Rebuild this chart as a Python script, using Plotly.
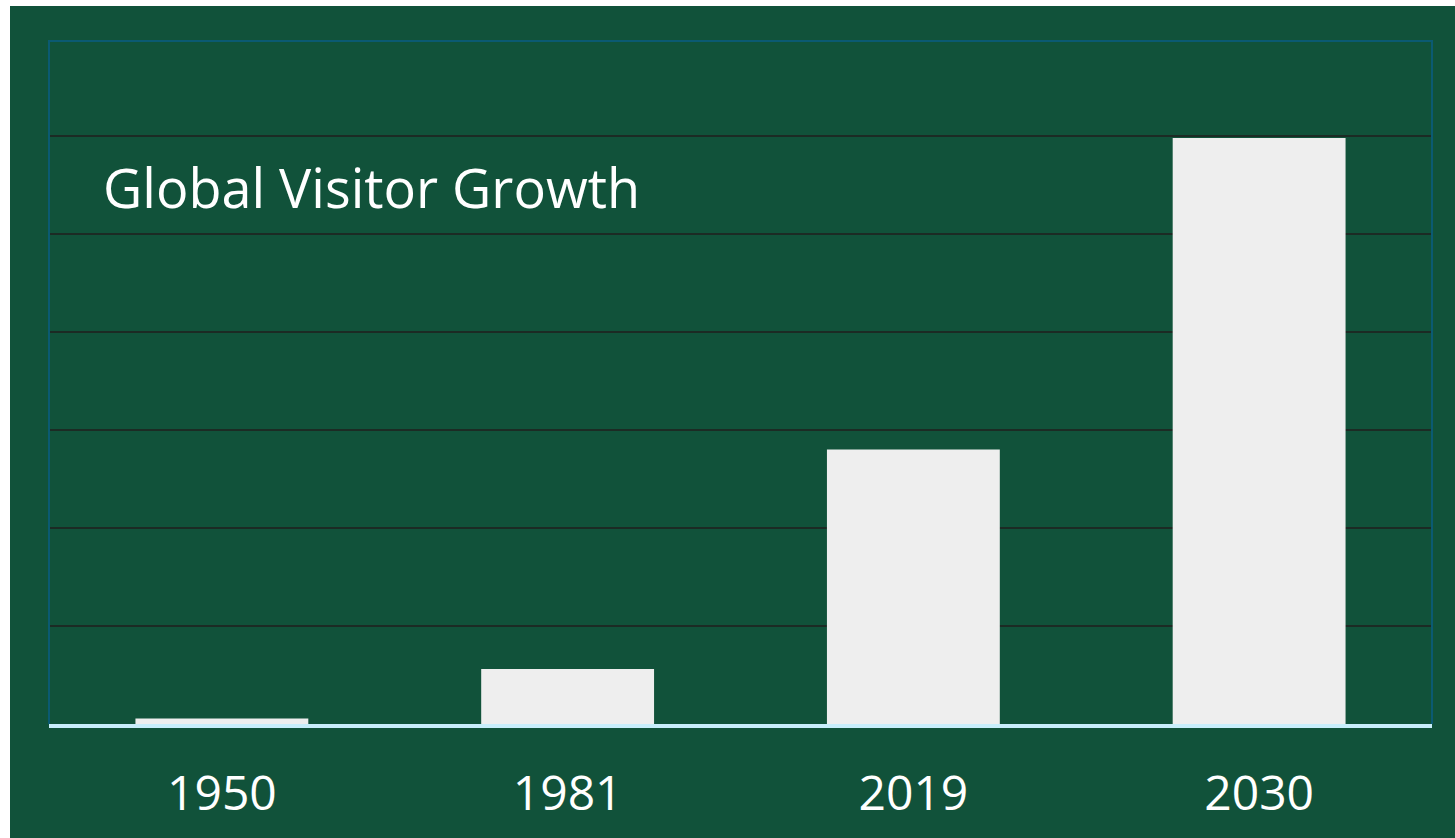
import plotly.graph_objects as go

# Data (billions of international visitors)
years = ["1950", "1981", "2019", "2030"]
visitors = [0.028, 0.28, 1.40, 2.99]
chart_title = "Global Visitor Growth"

W, H = 1455, 838
L, R, T, B = 49, 23, 41, 114
pw = W - L - R
ph = H - T - B

green = "#11523A"

fig = go.Figure()
fig.add_trace(go.Bar(
    x=years, y=visitors,
    marker=dict(color="#EEEEEE", line=dict(width=0)),
    hoverinfo="x+y",
))

fig.update_layout(
    width=W, height=H,
    margin=dict(l=L, r=R, t=T, b=B, pad=0, autoexpand=False),
    paper_bgcolor="#FFFFFF",
    plot_bgcolor=green,
    bargap=0.5,
    showlegend=False,
    font=dict(family="Open Sans, sans-serif", color="#FFFFFF"),
    xaxis=dict(
        automargin=False,
        showline=True, linecolor="#C8EEFB", linewidth=4,
        showgrid=False, zeroline=False,
        ticks="outside", ticklen=0, tickcolor="rgba(0,0,0,0)",
        ticklabelstandoff=24,
        tickfont=dict(size=48, color="#FFFFFF", family="Open Sans, sans-serif"),
    ),
    yaxis=dict(
        automargin=False,
        range=[0, 3.485], dtick=0.5,
        showgrid=True, gridcolor="#1C2B24", gridwidth=2,
        zeroline=False, showticklabels=False, showline=False,
    ),
)

# Outer background (white strip on top/left in reference) and plot frame
fig.add_shape(type="rect", xref="paper", yref="paper",
              x0=(10 - L) / pw, x1=(W - L) / pw + 0.01,
              y0=-(B + 5) / ph, y1=1 + (T - 6) / ph,
              fillcolor=green, line=dict(width=0), layer="below")
fig.add_shape(type="path", xref="paper", yref="paper",
              path="M 0,0 L 0,1 L 1,1 L 1,0",
              line=dict(color="#0B5A72", width=2), layer="above")

fig.add_annotation(
    text=chart_title, xref="paper", yref="paper",
    x=(101 - L) / pw, y=(H - B - 187) / ph,
    xanchor="left", yanchor="middle", showarrow=False,
    font=dict(size=54, color="#FFFFFF", family="Open Sans, sans-serif"),
)

fig.write_html("out.html", config={"displayModeBar": False},
               post_script="document.body.style.margin='0';")
